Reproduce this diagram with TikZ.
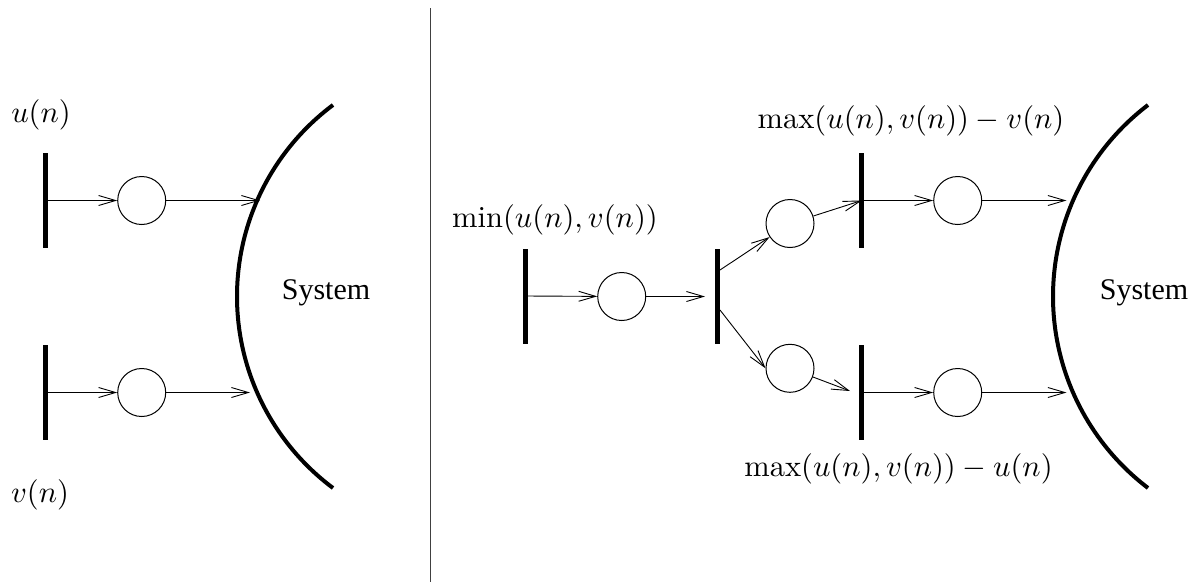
\documentclass[tikz,border=0pt]{standalone}
\usepackage{fontspec}
\newfontfamily\sysfont{Liberation Serif}
\usetikzlibrary{arrows.meta}
\begin{document}
\begin{tikzpicture}[x=1pt,y=-1pt,
  bar/.style={rectangle,fill=black,draw=none,inner sep=0pt,minimum width=4.6pt,minimum height=95pt},
  place/.style={circle,draw,line width=1pt,inner sep=0pt,minimum size=48pt},
  conn/.style={line width=0.9pt,-{Straight Barb[length=17pt,width=10pt,line width=0.9pt]}},
  sysarc/.style={line width=4pt},
  lab/.style={font=\fontsize{10}{12}\selectfont,scale=3.05,inner sep=0pt},
  syslab/.style={font=\sysfont\fontsize{30}{36}\selectfont,inner sep=0pt}]
\useasboundingbox (0,0) rectangle (1201,582);
% divider
\draw[line width=1pt,black!75] (430,8) -- (430,582);
% ---- left panel ----
\node[bar] (b1) at (45.7,200.5) {};
\node[bar] (b2) at (45.7,392.5) {};
\node[place] (c1) at (141.7,200.5) {};
\node[place] (c2) at (141.7,392.5) {};
\coordinate (a1) at (260,200.5);
\coordinate (a2) at (250,392.5);
\draw[sysarc] (333,105) arc[start angle=233.25,end angle=126.75,radius=239];
\draw[conn] (b1) -- (c1);
\draw[conn] (c1) -- (a1);
\draw[conn] (b2) -- (c2);
\draw[conn] (c2) -- (a2);
\node[lab] (lu) at (41,114.5) {$u(n)$};
\node[lab] (lv) at (40,494.5) {$v(n)$};
\node[syslab] (s1) at (326,293) {System};
% ---- right panel ----
\node[bar] (bA) at (525.7,296) {};
\node[bar] (bB) at (717.7,296) {};
\node[bar] (bC) at (861.7,200.5) {};
\node[bar] (bD) at (861.7,392.5) {};
\node[place] (cA) at (621.7,296.5) {};
\node[place] (cU) at (790,223.5) {};
\node[place] (cL) at (790,368.3) {};
\node[place] (c3) at (957.7,200.5) {};
\node[place] (c4) at (957.7,392.5) {};
\coordinate (tB) at (705,296.5);
\coordinate (sU) at (720,270);
\coordinate (sL) at (720,310);
\coordinate (tD) at (850,391);
\coordinate (a3) at (1066.5,200.5);
\coordinate (a4) at (1066.5,392.5);
\draw[sysarc] (1148,105) arc[start angle=232.77,end angle=127.23,radius=240.5];
\draw[conn] (bA) -- (cA);
\draw[conn] (cA) -- (tB);
\draw[conn] (sU) -- (cU);
\draw[conn] (sL) -- (cL.west);
\draw[conn] (cU) -- (bC.center);
\draw[conn] (cL) -- (tD);
\draw[conn] (bC) -- (c3);
\draw[conn] (c3) -- (a3);
\draw[conn] (bD) -- (c4);
\draw[conn] (c4) -- (a4);
\node[lab] (lmin) at (555,220) {$\min(u(n),v(n))$};
\node[lab] (lmv) at (911,121) {$\max(u(n),v(n))-v(n)$};
\node[lab] (lmu) at (898.5,469) {$\max(u(n),v(n))-u(n)$};
\node[syslab] (s2) at (1144,293) {System};
\end{tikzpicture}
\end{document}
